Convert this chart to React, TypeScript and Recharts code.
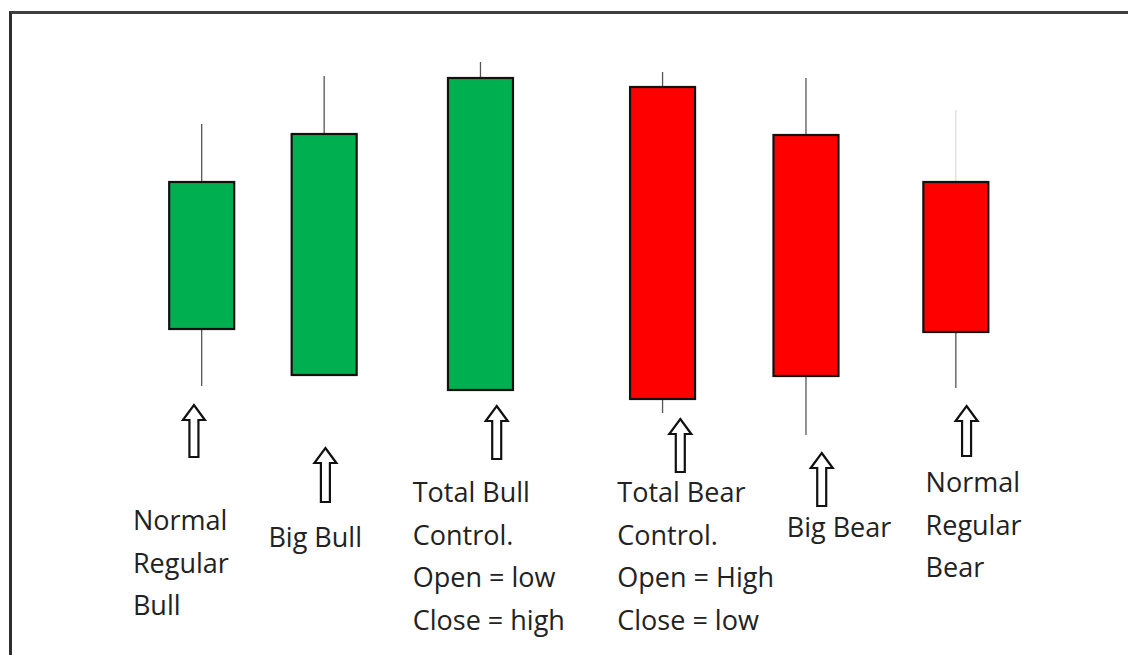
import React from "react";
import { ComposedChart, Bar, XAxis, YAxis } from "recharts";

// candle slots along an unlabeled time axis
const slots = [1.25, 2.01, 2.98, 4.11, 5.0, 5.93];
const opens = [11.1, 6.5, 5.0, 35.3, 30.5, 25.8];
const closes = [25.8, 30.6, 36.2, 4.1, 6.4, 10.8];
const highs = [31.6, 36.4, 37.8, 36.8, 36.2, 33.0];
const lows = [5.4, 6.5, 5.0, 2.7, 0.5, 5.2];

const captions = [
  ["Normal", "Regular", "Bull"],
  ["Big Bull"],
  ["Total Bull", "Control.", "Open = low", "Close = high"],
  ["Total Bear", "Control.", "Open = High", "Close = low"],
  ["Big Bear"],
  ["Normal", "Regular", "Bear"],
];

// caption / arrow placement relative to each candle (styling only)
const layout = [
  { tx: -68.5, ty: 90, gap: 42.5, ax: -7.5, ay: -35, ah: 52 },
  { tx: -55.5, ty: 107, gap: 42.5, ax: 1.5, ay: 8, ah: 54 },
  { tx: -67.5, ty: 62, gap: 42.7, ax: 16.5, ay: -34, ah: 53 },
  { tx: -45, ty: 62, gap: 42.7, ax: 18, ay: -21, ah: 53 },
  { tx: -19, ty: 97, gap: 42.5, ax: 16, ay: 13, ah: 53 },
  { tx: -30, ty: 52, gap: 42.5, ax: 11, ay: -34, ah: 50 },
];

const data = slots.map((slot, i) => ({
  slot,
  open: opens[i],
  close: closes[i],
  high: highs[i],
  low: lows[i],
  range: [lows[i], highs[i]],
}));

const GREEN = "#00b050";
const RED = "#fe0000";

function Candle(props: any) {
  const { x, y, width, height, payload, index } = props;
  const top = Math.min(y, y + height);
  const h = Math.abs(height);
  const { open, close, high, low } = payload;
  const per = h / (high - low);
  const toY = (v: number) => top + (high - v) * per;
  const cx = x + width / 2;
  const bodyTop = toY(Math.max(open, close));
  const bodyBot = toY(Math.min(open, close));
  const up = close >= open;
  // last candle's upper shadow is barely visible in the source
  const upperColor = index === 5 ? "#dcdcdc" : "#555";
  return (
    <g>
      {high > Math.max(open, close) && (
        <line x1={cx} x2={cx} y1={toY(high)} y2={bodyTop} stroke={upperColor} strokeWidth={1.3} />
      )}
      {low < Math.min(open, close) && (
        <line x1={cx} x2={cx} y1={bodyBot} y2={toY(low)} stroke="#555" strokeWidth={1.3} />
      )}
      <rect
        x={x}
        y={bodyTop}
        width={width}
        height={bodyBot - bodyTop}
        fill={up ? GREEN : RED}
        stroke="#111"
        strokeWidth={2.2}
      />
    </g>
  );
}

function Caption(props: any) {
  const { x, y, payload } = props;
  const i = slots.indexOf(payload.value);
  if (i < 0) return null;
  const l = layout[i];
  const ax = x + l.ax;
  const ay = y + l.ay;
  const hw = 11;
  const sw = 4.5;
  const hh = 15;
  const arrow = `M${ax},${ay} L${ax + hw},${ay + hh} L${ax + sw},${ay + hh} L${ax + sw},${ay + l.ah} L${ax - sw},${ay + l.ah} L${ax - sw},${ay + hh} L${ax - hw},${ay + hh} Z`;
  return (
    <g>
      <path d={arrow} fill="#fff" stroke="#111" strokeWidth={2.2} strokeLinejoin="miter" />
      {captions[i].map((line, k) => (
        <text
          key={k}
          x={x + l.tx}
          y={y + l.ty + k * l.gap}
          fill="#222"
          fontSize={27}
          fontFamily="'Open Sans', sans-serif"
        >
          {line}
        </text>
      ))}
    </g>
  );
}

export default function App() {
  return (
    <div style={{ position: "absolute", top: 0, left: 0, width: 1128, height: 655, background: "#fff", overflow: "hidden" }}>
      <div
        style={{
          position: "absolute",
          left: 9,
          top: 11,
          width: 1128,
          height: 660,
          borderTop: "3px solid #3f3f3f",
          borderLeft: "3px solid #2e2e2e",
        }}
      />
      <div style={{ position: "absolute", top: 0, left: 0 }}>
        <ComposedChart width={1128} height={655} data={data} margin={{ top: 0, right: 0, bottom: 0, left: 0 }}>
          <XAxis
            dataKey="slot"
            type="number"
            domain={[0, 7]}
            ticks={slots}
            interval={0}
            height={215}
            axisLine={false}
            tickLine={false}
            tickSize={0}
            tickMargin={0}
            tick={<Caption />}
          />
          <YAxis type="number" domain={[0, 44]} hide />
          <Bar dataKey="range" barSize={65} shape={<Candle />} isAnimationActive={false} />
        </ComposedChart>
      </div>
    </div>
  );
}
